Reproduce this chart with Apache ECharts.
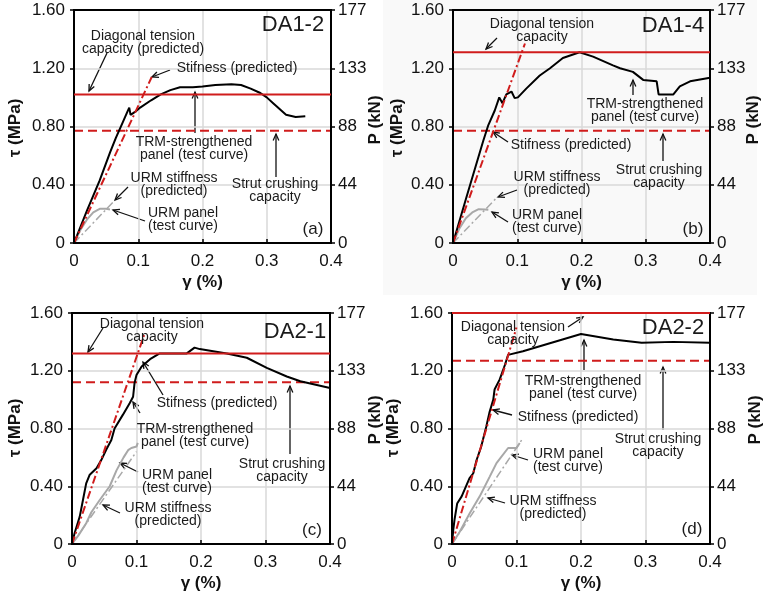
<!DOCTYPE html>
<html>
<head>
<meta charset="utf-8">
<script src="https://cdn.jsdelivr.net/npm/echarts@6/dist/echarts.min.js"></script>
<style>
html,body{margin:0;padding:0;background:#fff;}
#chart{width:765px;height:598px;}
</style>
</head>
<body>
<div id="chart"></div>
<script>
// ---------- tick labels ----------
const xTickLabels = ['0', '0.1', '0.2', '0.3', '0.4'];
const tauTickLabels = ['0', '0.40', '0.80', '1.20', '1.60'];
const pTickLabels = ['0', '44', '88', '133', '177'];

// ---------- panel (a) DA1-2 ----------
const trmA = [[0,0],[0.02,0.22],[0.04,0.43],[0.056,0.62],[0.065,0.72],[0.075,0.82],[0.083,0.9],[0.086,0.93],[0.088,0.88],[0.095,0.9],[0.103,0.93],[0.12,0.98],[0.135,1.02],[0.15,1.05],[0.165,1.07],[0.185,1.07],[0.2,1.075],[0.22,1.085],[0.245,1.09],[0.26,1.085],[0.275,1.06],[0.29,1.03],[0.3,1.0],[0.31,0.96],[0.32,0.92],[0.33,0.88],[0.345,0.865],[0.36,0.87]];
const urmA = [[0,0],[0.01,0.09],[0.02,0.16],[0.03,0.21],[0.04,0.235],[0.05,0.235],[0.056,0.23]];
const stiffA = [[0,0],[0.121,1.14]];
const urmStiffA = [[0,0],[0.064,0.295]];
const diagA = 1.02;
const strutA = 0.77;

// ---------- panel (b) DA1-4 ----------
const trmB = [[0,0],[0.02,0.3],[0.047,0.7],[0.055,0.81],[0.065,0.91],[0.072,1.0],[0.077,0.96],[0.083,1.02],[0.091,1.04],[0.096,0.995],[0.101,1.0],[0.114,1.06],[0.135,1.15],[0.151,1.2],[0.171,1.27],[0.197,1.31],[0.218,1.28],[0.249,1.22],[0.26,1.2],[0.28,1.175],[0.296,1.12],[0.317,1.11],[0.32,1.02],[0.343,1.02],[0.353,1.075],[0.369,1.11],[0.4,1.135]];
const urmB = [[0,0],[0.01,0.1],[0.02,0.17],[0.03,0.21],[0.04,0.232],[0.05,0.23],[0.055,0.228]];
const stiffB = [[0,0],[0.112,1.37]];
const urmStiffB = [[0,0],[0.07,0.32]];
const diagB = 1.31;
const strutB = 0.77;

// ---------- panel (c) DA2-1 ----------
const trmC = [[0,0],[0.004,0.074],[0.012,0.19],[0.017,0.305],[0.022,0.42],[0.0275,0.48],[0.038,0.525],[0.0456,0.583],[0.053,0.653],[0.061,0.72],[0.066,0.8],[0.079,0.896],[0.0896,0.977],[0.0947,1.02],[0.097,1.116],[0.1,1.17],[0.108,1.23],[0.121,1.28],[0.136,1.32],[0.178,1.32],[0.19,1.36],[0.198,1.35],[0.24,1.32],[0.271,1.29],[0.302,1.22],[0.333,1.16],[0.354,1.127],[0.4,1.08]];
const urmC = [[0,0],[0.01,0.06],[0.022,0.144],[0.03,0.22],[0.043,0.305],[0.0585,0.4],[0.069,0.51],[0.08,0.6],[0.087,0.65],[0.092,0.665],[0.1,0.675],[0.102,0.7]];
const stiffC = [[0,0],[0.112,1.45]];
const urmStiffC = [[0,0],[0.1,0.64]];
const diagC = 1.32;
const strutC = 1.12;

// ---------- panel (d) DA2-2 ----------
const trmD = [[0,0],[0.002,0.1],[0.004,0.17],[0.008,0.28],[0.015,0.33],[0.027,0.455],[0.033,0.49],[0.038,0.58],[0.045,0.67],[0.053,0.81],[0.058,0.91],[0.064,1.0],[0.066,1.07],[0.074,1.14],[0.082,1.24],[0.087,1.31],[0.11,1.335],[0.2,1.455],[0.25,1.417],[0.294,1.394],[0.343,1.4],[0.4,1.394]];
const urmD = [[0,0],[0.012,0.085],[0.0275,0.213],[0.043,0.33],[0.0585,0.467],[0.069,0.56],[0.087,0.665],[0.1,0.665],[0.105,0.7]];
const stiffD = [[0,0],[0.1,1.5]];
const urmStiffD = [[0,0],[0.108,0.72]];
const diagD = 1.6;
const strutD = 1.27;

const panelNames = ['DA1-2', 'DA1-4', 'DA2-1', 'DA2-2'];
const panelTags = ['(a)', '(b)', '(c)', '(d)'];

// ---------- build ----------
const FONT = "'Liberation Sans', Arial, sans-serif";
const RED = '#d01c1c';
const GREY = '#a8a8a8';
const X_MAX = 0.4;

const grids = [
  {left: 74, top: 10, width: 257, height: 233},
  {left: 453, top: 10, width: 257, height: 233},
  {left: 72, top: 313, width: 258, height: 231},
  {left: 452, top: 313, width: 258, height: 231}
];

const panels = [
  {trm: trmA, urm: urmA, stiff: stiffA, urmStiff: urmStiffA, diag: diagA, strut: strutA},
  {trm: trmB, urm: urmB, stiff: stiffB, urmStiff: urmStiffB, diag: diagB, strut: strutB},
  {trm: trmC, urm: urmC, stiff: stiffC, urmStiff: urmStiffC, diag: diagC, strut: strutC},
  {trm: trmD, urm: urmD, stiff: stiffD, urmStiff: urmStiffD, diag: diagD, strut: strutD}
];

const gridOpts = grids.map(g => Object.assign({show: false}, g));

const splitStyle = {show: true, showMinLine: false, showMaxLine: false, lineStyle: {color: '#d8d8d8', width: 1.5}};

const xAxes = grids.map((g, i) => ({
  type: 'value', gridIndex: i, min: 0, max: X_MAX, interval: 0.1, position: 'bottom',
  name: 'γ (%)', nameLocation: 'middle', nameGap: 31,
  nameTextStyle: {fontFamily: FONT, fontSize: 17, fontWeight: 'bold', color: '#111'},
  axisLine: {show: true, lineStyle: {color: '#000', width: 2}},
  axisTick: {show: true, inside: true, length: 4, lineStyle: {color: '#000', width: 1.5}},
  axisLabel: {fontFamily: FONT, fontSize: 17, color: '#111', margin: 10,
    formatter: v => xTickLabels[Math.round(v / 0.1)]},
  splitLine: splitStyle
}));

const yAxes = [];
grids.forEach((g, i) => {
  yAxes.push({
    type: 'value', gridIndex: i, min: 0, max: 1.6, interval: 0.4, position: 'left',
    axisLine: {show: true, lineStyle: {color: '#000', width: 2}},
    axisTick: {show: true, length: 4, lineStyle: {color: '#000', width: 1.5}},
    axisLabel: {fontFamily: FONT, fontSize: 17, color: '#111', margin: 9,
      formatter: v => tauTickLabels[Math.round(v / 0.4)]},
    splitLine: splitStyle
  });
  yAxes.push({
    type: 'value', gridIndex: i, min: 0, max: 1.6, interval: 0.4, position: 'right',
    axisLine: {show: true, lineStyle: {color: '#000', width: 2}},
    axisTick: {show: true, length: 4, lineStyle: {color: '#000', width: 1.5}},
    axisLabel: {fontFamily: FONT, fontSize: 17, color: '#111', margin: 7,
      formatter: v => pTickLabels[Math.round(v / 0.4)]},
    splitLine: {show: false}
  });
});

const series = [];
panels.forEach((p, i) => {
  const base = {type: 'line', xAxisIndex: i, yAxisIndex: i * 2, symbol: 'none', animation: false, silent: true};
  series.push(Object.assign({}, base, {name: 'diag' + i, data: [[0, p.diag], [X_MAX, p.diag]], clip: false, z: 12,
    lineStyle: {color: RED, width: 2}}));
  series.push(Object.assign({}, base, {name: 'strut' + i, data: [[0, p.strut], [X_MAX, p.strut]], z: 3,
    lineStyle: {color: RED, width: 2, type: [9, 5]}}));
  series.push(Object.assign({}, base, {name: 'urmStiff' + i, data: p.urmStiff, z: 4,
    lineStyle: {color: GREY, width: 1.5, type: [8, 3, 2, 3]}}));
  series.push(Object.assign({}, base, {name: 'urm' + i, data: p.urm, z: 4,
    lineStyle: {color: GREY, width: 2}}));
  series.push(Object.assign({}, base, {name: 'trm' + i, data: p.trm, z: 5,
    lineStyle: {color: '#000', width: 2}}));
  series.push(Object.assign({}, base, {name: 'stiff' + i, data: p.stiff, z: 6,
    lineStyle: {color: RED, width: 2, type: [8, 3, 2, 3]}}));
});

// ---------- annotations ----------
function txt(x, y, text, size, extra, rot) {
  return {type: 'text', x: x, y: y, z: 50, silent: true, rotation: rot || 0,
    style: Object.assign({text: text, fontFamily: FONT, fontSize: size || 14, lineHeight: 13,
      fill: '#1a1a1a', align: 'center', verticalAlign: 'middle'}, extra || {})};
}
function arrow(x1, y1, x2, y2) {
  const ang = Math.atan2(y2 - y1, x2 - x1), L = 7, w = 0.42;
  return {type: 'group', z: 50, silent: true, children: [
    {type: 'line', shape: {x1: x1, y1: y1, x2: x2, y2: y2}, style: {stroke: '#111', lineWidth: 1.3}},
    {type: 'polyline', shape: {points: [
      [x2 - L * Math.cos(ang - w), y2 - L * Math.sin(ang - w)], [x2, y2],
      [x2 - L * Math.cos(ang + w), y2 - L * Math.sin(ang + w)]]},
      style: {stroke: '#111', lineWidth: 1.3, fill: null}}
  ]};
}

const graphics = [
  {type: 'rect', z: -10, silent: true, shape: {x: 383, y: 0, width: 374, height: 295}, style: {fill: '#f9f9f9'}},
  // (a)
  txt(143, 43, 'Diagonal tension\ncapacity (predicted)'), arrow(107, 53, 89, 91),
  txt(237, 68, 'Stifness (predicted)'), arrow(170, 70, 152, 77),
  txt(194, 149, 'TRM-strengthened\npanel (test curve)'), arrow(195, 133, 195, 92),
  txt(275, 191, 'Strut crushing\ncapacity'), arrow(276, 177, 276, 134),
  txt(174, 185, 'URM stiffness\n(predicted)'), arrow(128, 187, 115, 200),
  txt(183, 220, 'URM panel\n(test curve)'), arrow(145, 221, 113, 210),
  // (b)
  txt(542, 31, 'Diagonal tension\ncapacity'), arrow(497, 38, 486, 49),
  txt(571, 145, 'Stifness (predicted)'), arrow(508, 142, 493, 132),
  txt(645, 111, 'TRM-strengthened\npanel (test curve)'), arrow(633, 95, 633, 80),
  txt(659, 177, 'Strut crushing\ncapacity'), arrow(663, 161, 663, 134),
  txt(557, 184, 'URM stiffness\n(predicted)'), arrow(517, 190, 498, 197),
  txt(547, 222, 'URM panel\n(test curve)'), arrow(508, 222, 492, 212),
  // (c)
  txt(152, 331, 'Diagonal tension\ncapacity'), arrow(103, 328, 88, 352),
  txt(217, 403, 'Stifness (predicted)'), arrow(163, 395, 143, 362),
  txt(195, 436, 'TRM-strengthened\npanel (test curve)'), arrow(140, 413, 133, 402),
  txt(282, 471, 'Strut crushing\ncapacity'), arrow(290, 454, 290, 386),
  txt(177, 482, 'URM panel\n(test curve)'), arrow(138, 472, 120, 463),
  txt(168, 515, 'URM stiffness\n(predicted)'), arrow(120, 513, 103, 505),
  // (d)
  txt(513, 334, 'Diagonal tension\ncapacity'), arrow(568, 327, 583, 317),
  txt(583, 388, 'TRM-strengthened\npanel (test curve)'), arrow(584, 370, 584, 340),
  txt(578, 417, 'Stifness (predicted)'), arrow(512, 415, 493, 410),
  txt(658, 446, 'Strut crushing\ncapacity'), arrow(663, 430, 663, 367),
  txt(568, 461, 'URM panel\n(test curve)'), arrow(528, 460, 512, 455),
  txt(553, 508, 'URM stiffness\n(predicted)'), arrow(505, 503, 488, 498)
];
// plot frames
grids.forEach(g => graphics.push({type: 'rect', z: 8, silent: true,
  shape: {x: g.left, y: g.top, width: g.width, height: g.height},
  style: {fill: 'none', stroke: '#000', lineWidth: 2}}));

const namePos = [[293, 25], [673, 26], [295, 332], [673, 328]];
const tagPos = [[313, 229], [693, 229], [312, 530], [692, 529]];
const tauNamePos = [[15, 128], [397, 128], [15, 428], [393, 428]];
const pNamePos = [[375, 120], [753, 120], [375, 420], [755, 420]];
panelNames.forEach((n, i) => graphics.push(txt(namePos[i][0], namePos[i][1], n, 22)));
panelTags.forEach((n, i) => graphics.push(txt(tagPos[i][0], tagPos[i][1], n, 17)));
const boldName = {fontWeight: 'bold', fill: '#111'};
tauNamePos.forEach(p => graphics.push(txt(p[0], p[1], 'τ (MPa)', 17, boldName, Math.PI / 2)));
pNamePos.forEach(p => graphics.push(txt(p[0], p[1], 'P (kN)', 17, boldName, Math.PI / 2)));

const chart = echarts.init(document.getElementById('chart'), null, {renderer: 'canvas'});
chart.setOption({
  animation: false,
  backgroundColor: '#ffffff',
  grid: gridOpts,
  xAxis: xAxes,
  yAxis: yAxes,
  series: series,
  graphic: graphics
});
</script>
</body>
</html>
